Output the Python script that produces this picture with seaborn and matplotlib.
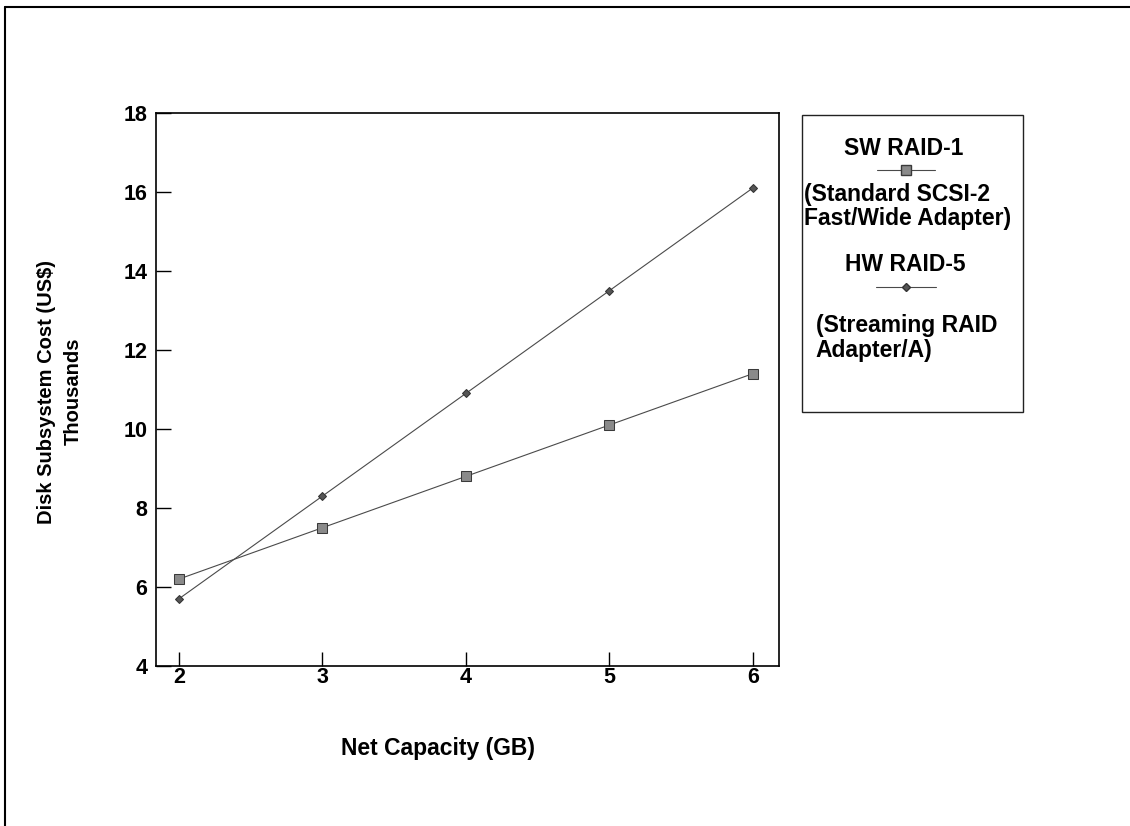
import matplotlib
matplotlib.use('Agg')
import matplotlib.pyplot as plt
from matplotlib.lines import Line2D
from matplotlib.patches import Rectangle
import seaborn as sns
import pandas as pd

capacity = [2, 3, 4, 5, 6]
sw_raid1 = [6.2, 7.5, 8.8, 10.1, 11.4]
hw_raid5 = [5.7, 8.3, 10.9, 13.5, 16.1]
y_ticks = [4, 6, 8, 10, 12, 14, 16, 18]

sw_label = 'SW RAID-1'
sw_note = '(Standard SCSI-2\nFast/Wide Adapter)'
hw_label = 'HW RAID-5'
hw_note = '(Streaming RAID\nAdapter/A)'

df = pd.DataFrame({'cap': capacity, 'sw': sw_raid1, 'hw': hw_raid5})

sns.set_style('white')
plt.rcParams['font.family'] = ['Liberation Sans', 'DejaVu Sans']
plt.rcParams['font.weight'] = 'bold'
plt.rcParams['text.color'] = 'black'
FS = 15.5
FS_H = 16.5   # horizontal text in the source is rendered a bit wider
FS_V = 14.5

fig = plt.figure(figsize=(11.3, 8.26), dpi=100)
ax = fig.add_axes([0.138, 0.1937, 0.551, 0.6695])

sw_style = dict(marker='s', markersize=7, markerfacecolor='#8a8a8a',
                markeredgecolor='#3a3a3a', color='#4a4a4a', linewidth=0.8)
hw_style = dict(marker='D', markersize=4.5, markerfacecolor='#555555',
                markeredgecolor='#333333', color='#4a4a4a', linewidth=0.8)

sns.lineplot(data=df, x='cap', y='sw', ax=ax, **sw_style)
sns.lineplot(data=df, x='cap', y='hw', ax=ax, **hw_style)

ax.set_xlim(1.84, 6.18)
ax.set_ylim(4, 18)
ax.set_xticks(capacity)
ax.set_yticks(y_ticks)
ax.set_xlabel('')
ax.set_ylabel('')
ax.tick_params(axis='both', direction='in', labelsize=FS, colors='black', width=1)
ax.tick_params(axis='y', length=11, pad=6, left=True)
ax.tick_params(axis='x', length=10, pad=1, bottom=True)
for s in ax.spines.values():
    s.set_visible(True)
    s.set_color('black')
    s.set_linewidth(1.2)

fig.text(0.041, 0.526, 'Disk Subsystem Cost (US$)', rotation=90,
         ha='center', va='center', fontsize=FS_V)
fig.text(0.065, 0.526, 'Thousands', rotation=90,
         ha='center', va='center', fontsize=FS_V)
fig.text(0.388, 0.094, 'Net Capacity (GB)', ha='center', va='center', fontsize=FS_H)

# legend box
fig.add_artist(Rectangle((0.7097, 0.5012), 0.1956, 0.3596, transform=fig.transFigure,
                         fill=False, edgecolor='#222222', linewidth=1))
fig.text(0.800, 0.820, sw_label, ha='center', va='center', fontsize=FS_H)
fig.add_artist(Line2D([0.776, 0.8274], [0.7942, 0.7942], transform=fig.transFigure,
                      color='#4a4a4a', linewidth=0.8))
fig.add_artist(Line2D([0.802], [0.7942], transform=fig.transFigure, linestyle='none',
                      marker='s', markersize=7, markerfacecolor='#8a8a8a',
                      markeredgecolor='#3a3a3a'))
fig.text(0.7115, 0.750, sw_note, ha='left', va='center', fontsize=FS_H, linespacing=1.1)

fig.text(0.801, 0.680, hw_label, ha='center', va='center', fontsize=FS_H)
fig.add_artist(Line2D([0.775, 0.828], [0.6525, 0.6525], transform=fig.transFigure,
                      color='#4a4a4a', linewidth=0.8))
fig.add_artist(Line2D([0.802], [0.6525], transform=fig.transFigure, linestyle='none',
                      marker='D', markersize=4.5, markerfacecolor='#555555',
                      markeredgecolor='#333333'))
fig.text(0.722, 0.591, hw_note, ha='left', va='center', fontsize=FS_H, linespacing=1.1)

# outer frame (top and left edges only)
fig.add_artist(Line2D([0.0044, 1.0], [0.9915, 0.9915], transform=fig.transFigure,
                      color='black', linewidth=1.5))
fig.add_artist(Line2D([0.0044, 0.0044], [0.0, 0.9915], transform=fig.transFigure,
                      color='black', linewidth=1.5))

fig.savefig('out.png', dpi=100)
